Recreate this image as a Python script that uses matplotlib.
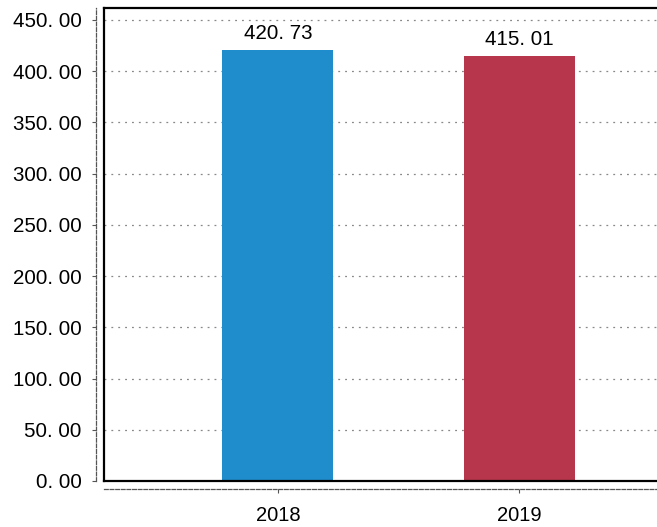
import matplotlib.pyplot as plt
from matplotlib.lines import Line2D

years = ['2018', '2019']
values = [420.73, 415.01]
colors = ['#1f8ccb', '#b7364c']
yticks = [0, 50, 100, 150, 200, 250, 300, 350, 400, 450]


def fmt(v):
    # labels are printed with a space after the decimal point
    return ('%.2f' % v).replace('.', '. ')


plt.rcParams['font.family'] = ['Liberation Sans', 'DejaVu Sans']

fig = plt.figure(figsize=(6.57, 5.27), dpi=100)
ax = fig.add_axes([104 / 657, 1 - 481 / 527, 1 - 104 / 657, (481 - 8) / 527])

x = range(len(years))
ax.bar(x, values, width=0.46, color=colors, zorder=3)
for xi, v in zip(x, values):
    ax.text(xi, v + 7, fmt(v), ha='center', va='bottom', fontsize=14.8, zorder=4)

ax.set_xlim(-0.72, 1.57)
ax.set_ylim(0, 461.7)
ax.set_yticks(yticks)
ax.set_yticklabels([fmt(t) for t in yticks])
ax.set_xticks(list(x))
ax.set_xticklabels(years)
ax.yaxis.grid(True, linestyle=(0, (1.5, 4)), color='#888888', linewidth=0.9, zorder=0)

# dashed axis lines set a little away from the plot frame
for side in ['left', 'bottom']:
    ax.spines[side].set_position(('outward', 6))
    ax.spines[side].set_linestyle((0, (3, 1.5)))
    ax.spines[side].set_color('#555555')
    ax.spines[side].set_linewidth(0.9)
ax.spines['right'].set_visible(False)
ax.spines['top'].set_visible(False)
ax.tick_params(axis='y', length=3, width=0.8, pad=7, color='#555555', labelsize=14.8)
ax.tick_params(axis='x', length=3, width=0.8, pad=9, color='#555555', labelsize=14.5)

# solid frame around the plotting area
frame = dict(transform=ax.transAxes, color='black', linewidth=1.6, clip_on=False, zorder=5)
ax.add_line(Line2D([0, 0], [0, 1], **frame))
ax.add_line(Line2D([0, 1], [1, 1], **frame))
ax.add_line(Line2D([0, 1], [0, 0], **frame))

fig.savefig('out.png', dpi=100)
